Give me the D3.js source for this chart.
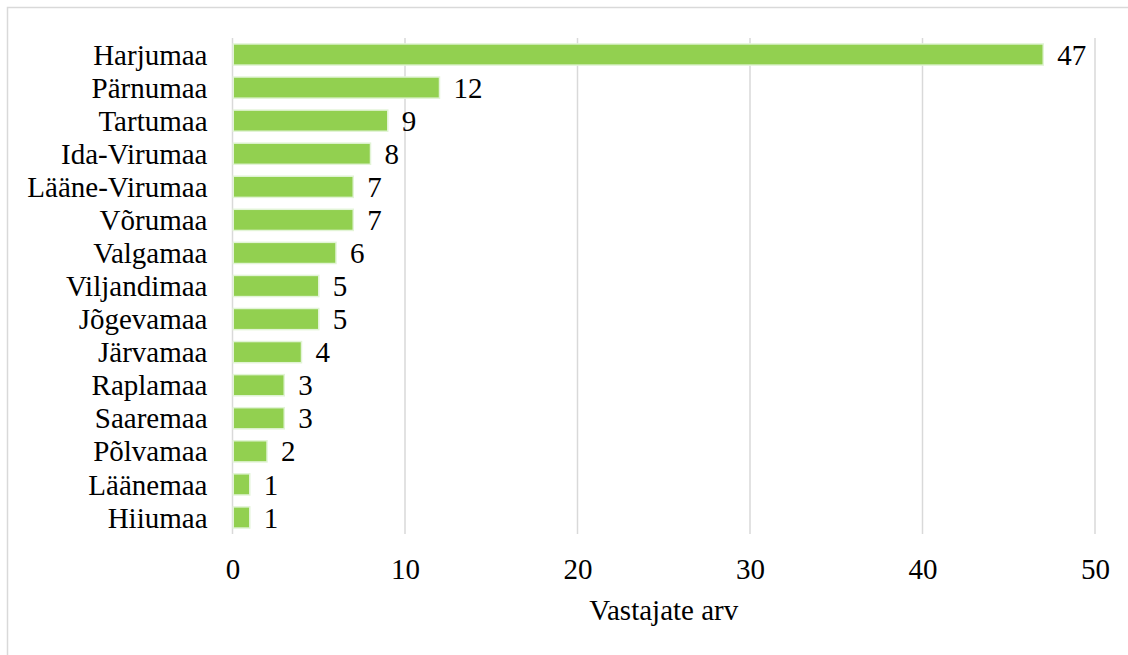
<!DOCTYPE html>
<html>
<head>
<meta charset="utf-8">
<script src="https://cdn.jsdelivr.net/npm/d3@7"></script>
<style>
  html, body { margin: 0; padding: 0; background: #fff; }
  svg { display: block; font-family: "Liberation Serif", "Times New Roman", serif; }
</style>
</head>
<body>
<svg id="chart" width="1128" height="655"></svg>
<script>
// data
const counties = ["Harjumaa", "Pärnumaa", "Tartumaa", "Ida-Virumaa", "Lääne-Virumaa", "Võrumaa",
    "Valgamaa", "Viljandimaa", "Jõgevamaa", "Järvamaa", "Raplamaa", "Saaremaa",
    "Põlvamaa", "Läänemaa", "Hiiumaa"];
const respondents = [47, 12, 9, 8, 7, 7, 6, 5, 5, 4, 3, 3, 2, 1, 1];
const xTicks = [0, 10, 20, 30, 40, 50];
const xTitle = "Vastajate arv";

const rows = counties.map((c, i) => ({ name: c, value: respondents[i] }));

const svg = d3.select("#chart");
const margin = { top: 38, left: 232.5, right: 33, bottom: 121 };
const width = 1128, height = 655;
const fontSize = 29;

// outer chart frame (right and bottom fall outside the crop)
svg.append("rect")
    .attr("x", 7.5).attr("y", 7.5)
    .attr("width", 1140).attr("height", 670)
    .attr("fill", "none")
    .attr("stroke", "#d9d9d9")
    .attr("stroke-width", 1.5);

const x = d3.scaleLinear()
    .domain([0, 50])
    .range([margin.left, width - margin.right]);

const y = d3.scaleBand()
    .domain(counties)
    .range([margin.top, height - margin.bottom])
    .paddingInner(0.36)
    .paddingOuter(0.18);

// vertical gridlines
svg.append("g")
    .selectAll("line")
    .data(xTicks)
    .join("line")
    .attr("x1", d => x(d)).attr("x2", d => x(d))
    .attr("y1", margin.top).attr("y2", height - margin.bottom)
    .attr("stroke", "#d9d9d9")
    .attr("stroke-width", 1.5);

// bars
svg.append("g")
    .selectAll("rect")
    .data(rows)
    .join("rect")
    .attr("x", x(0) + 0.75)
    .attr("y", d => y(d.name))
    .attr("width", d => x(d.value) - x(0) - 0.75)
    .attr("height", y.bandwidth())
    .attr("fill", "#92d050")
    .attr("stroke", "#e2f4d6")
    .attr("stroke-width", 1.5);

// value labels
svg.append("g")
    .selectAll("text")
    .data(rows)
    .join("text")
    .attr("x", d => x(d.value) + 14)
    .attr("y", d => y(d.name) + y.bandwidth() / 2)
    .attr("dy", "0.35em")
    .attr("font-size", fontSize)
    .attr("fill", "#000")
    .text(d => d.value);

// category axis
const yAxis = svg.append("g")
    .attr("transform", `translate(${margin.left},0)`)
    .call(d3.axisLeft(y).tickSize(0).tickPadding(25));
yAxis.select(".domain").remove();
yAxis.selectAll("text")
    .attr("font-size", fontSize)
    .attr("font-family", "Liberation Serif, Times New Roman, serif")
    .attr("fill", "#000")
    .attr("dy", "0.35em");

// value axis
const xAxis = svg.append("g")
    .attr("transform", `translate(0,${height - margin.bottom})`)
    .call(d3.axisBottom(x).tickValues(xTicks).tickSize(0).tickPadding(24));
xAxis.select(".domain").remove();
xAxis.selectAll("text")
    .attr("font-size", fontSize)
    .attr("font-family", "Liberation Serif, Times New Roman, serif")
    .attr("fill", "#000");

svg.append("text")
    .attr("x", (x(0) + x(50)) / 2)
    .attr("y", 620)
    .attr("text-anchor", "middle")
    .attr("font-size", fontSize)
    .attr("fill", "#000")
    .text(xTitle);
</script>
</body>
</html>
